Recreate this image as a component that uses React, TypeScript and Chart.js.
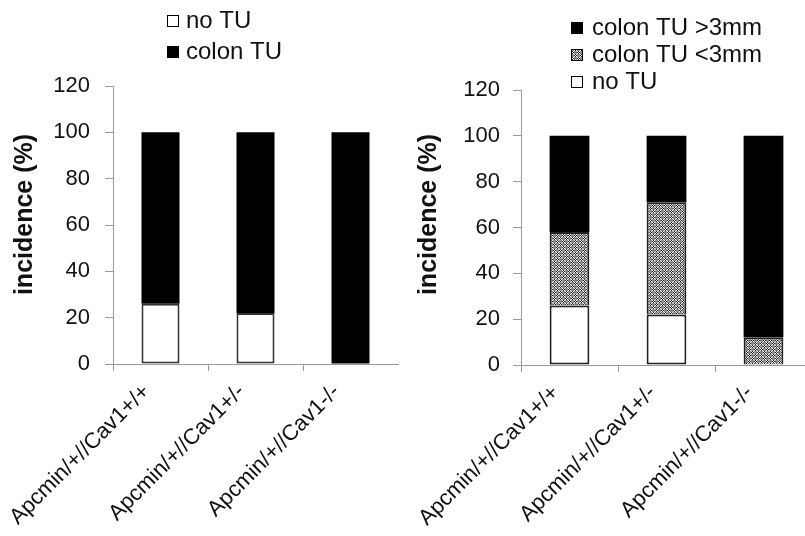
import React, { useEffect, useRef } from "react";
import { Chart, registerables } from "chart.js";

Chart.register(...registerables);

// ---- data ----
const categories = ["Apcmin/+//Cav1+/+", "Apcmin/+//Cav1+/-", "Apcmin/+//Cav1-/-"];
const leftNoTU = [26, 22, 0];
const leftColonTU = [74, 78, 100];
const rightNoTU = [26, 22, 0];
const rightSmallTU = [32, 49, 12];
const rightLargeTU = [42, 29, 88];
const yMin = 0;
const yMax = 120;
const yStep = 20;
const yTitle = "incidence (%)";
const leftLabels = ["no TU", "colon TU"];
const rightLabels = ["no TU", "colon TU <3mm", "colon TU >3mm"];
const leftLegendOrder = [0, 1];
const rightLegendOrder = [2, 1, 0];

const FONT = "'Liberation Sans', Arial, Helvetica, sans-serif";
const AXIS = "#9a9a9a";

function makePattern(): CanvasPattern | string {
  const rows = [
    "wkwggg",
    "kwkggg",
    "wkwggg",
    "gggwkw",
    "gggkwk",
    "gggwkw",
  ];
  const c = document.createElement("canvas");
  c.width = 6;
  c.height = 6;
  const g = c.getContext("2d");
  if (!g) return "#999";
  const col: Record<string, string> = { w: "#f4f4f4", k: "#1e1e1e", g: "#8a8a8a" };
  rows.forEach((r, y) => {
    for (let x = 0; x < r.length; x++) {
      g.fillStyle = col[r[x]];
      g.fillRect(x, y, 1, 1);
    }
  });
  const p = g.createPattern(c, "repeat");
  return p || "#999";
}

type Cfg = {
  yWidth: number;
  xHeight: number;
  padTop: number;
  padRight: number;
  barPct: number;
  yTickPad: number;
  legendBoxX: number;
  legendTextX: number;
  legendBaselines: number[];
  legendOrder: number[];
  titleX: number;
  titleY: number;
};

function overlayPlugin(cfg: Cfg) {
  return {
    id: "overlay",
    afterDraw(chart: any) {
      const ctx: CanvasRenderingContext2D = chart.ctx;
      ctx.save();
      // legend
      ctx.font = `24px ${FONT}`;
      ctx.textBaseline = "alphabetic";
      ctx.textAlign = "left";
      cfg.legendOrder.forEach((di, i) => {
        const ds = chart.data.datasets[di];
        const base = cfg.legendBaselines[i];
        const bx = cfg.legendBoxX;
        const by = base - 13;
        ctx.fillStyle = ds.backgroundColor;
        ctx.fillRect(bx, by, 12, 12);
        ctx.strokeStyle = "#000";
        ctx.lineWidth = 1;
        ctx.strokeRect(bx + 0.5, by + 0.5, 11, 11);
        ctx.fillStyle = "#111";
        ctx.fillText(ds.label, cfg.legendTextX, base);
      });
      // y axis title
      ctx.translate(cfg.titleX, cfg.titleY);
      ctx.rotate(-Math.PI / 2);
      ctx.font = `bold 25px ${FONT}`;
      ctx.textAlign = "center";
      ctx.textBaseline = "middle";
      ctx.fillStyle = "#111";
      ctx.fillText(yTitle, 0, 0);
      ctx.restore();
    },
  };
}

function buildConfig(datasets: any[], cfg: Cfg): any {
  return {
    type: "bar",
    data: { labels: categories, datasets },
    plugins: [overlayPlugin(cfg)],
    options: {
      animation: false,
      responsive: true,
      maintainAspectRatio: false,
      devicePixelRatio: 1,
      layout: { padding: { top: cfg.padTop, right: cfg.padRight, left: 0, bottom: 0 } },
      plugins: { legend: { display: false }, tooltip: { enabled: false }, title: { display: false } },
      datasets: { bar: { categoryPercentage: 1, barPercentage: cfg.barPct } },
      scales: {
        x: {
          stacked: true,
          offset: true,
          grid: {
            offset: true,
            drawOnChartArea: false,
            drawTicks: true,
            tickLength: 7,
            color: (c: any) => (c.type === "tick" ? AXIS : "rgba(0,0,0,0)"),
            lineWidth: 1,
          },
          border: { display: true, color: AXIS, width: 1 },
          ticks: {
            autoSkip: false,
            minRotation: 45,
            maxRotation: 45,
            padding: 8,
            labelOffset: -14,
            color: "#111",
            font: { family: FONT, size: 22 },
          },
          afterFit: (s: any) => {
            s.height = cfg.xHeight;
            s.paddingLeft = 0;
            s.paddingRight = 0;
          },
        },
        y: {
          stacked: true,
          min: yMin,
          max: yMax,
          grid: { drawOnChartArea: false, drawTicks: true, tickLength: 8, color: AXIS, lineWidth: 1 },
          border: { display: true, color: AXIS, width: 1 },
          ticks: {
            stepSize: yStep,
            padding: cfg.yTickPad,
            color: "#111",
            font: { family: FONT, size: 22 },
          },
          afterFit: (s: any) => {
            s.width = cfg.yWidth;
          },
        },
      },
    },
  };
}

export default function App() {
  const leftRef = useRef<HTMLCanvasElement | null>(null);
  const rightRef = useRef<HTMLCanvasElement | null>(null);

  useEffect(() => {
    const pattern = makePattern();
    const leftCfg: Cfg = {
      yWidth: 113,
      xHeight: 536 - 364,
      padTop: 86,
      padRight: 2,
      barPct: 0.4,
      yTickPad: 15,
      legendBoxX: 167,
      legendTextX: 186,
      legendBaselines: [28, 59],
      legendOrder: leftLegendOrder,
      titleX: 25.5,
      titleY: 214.5,
    };
    const rightCfg: Cfg = {
      yWidth: 121,
      xHeight: 536 - 365,
      padTop: 90,
      padRight: 0,
      barPct: 0.41,
      yTickPad: 13,
      legendBoxX: 171,
      legendTextX: 192,
      legendBaselines: [35, 62, 89],
      legendOrder: rightLegendOrder,
      titleX: 29,
      titleY: 214.5,
    };
    const leftDatasets = [
      {
        label: leftLabels[0],
        data: leftNoTU,
        backgroundColor: "#ffffff",
        borderColor: "#333333",
        borderWidth: 2,
        borderSkipped: false,
      },
      {
        label: leftLabels[1],
        data: leftColonTU,
        backgroundColor: "#000000",
        borderColor: "#000000",
        borderWidth: 0,
      },
    ];
    const rightDatasets = [
      {
        label: rightLabels[0],
        data: rightNoTU,
        backgroundColor: "#ffffff",
        borderColor: "#222222",
        borderWidth: 2,
        borderSkipped: false,
      },
      {
        label: rightLabels[1],
        data: rightSmallTU,
        backgroundColor: pattern,
        borderColor: "#222222",
        borderWidth: 2,
        borderSkipped: "start",
      },
      {
        label: rightLabels[2],
        data: rightLargeTU,
        backgroundColor: "#000000",
        borderColor: "#000000",
        borderWidth: 0,
      },
    ];
    const c1 = new Chart(leftRef.current as HTMLCanvasElement, buildConfig(leftDatasets, leftCfg));
    const c2 = new Chart(rightRef.current as HTMLCanvasElement, buildConfig(rightDatasets, rightCfg));
    return () => {
      c1.destroy();
      c2.destroy();
    };
  }, []);

  return (
    <div
      style={{
        position: "absolute",
        left: 0,
        top: 0,
        width: 805,
        height: 536,
        overflow: "hidden",
        background: "#ffffff",
      }}
    >
      <div style={{ position: "absolute", left: 0, top: 0, width: 400, height: 536 }}>
        <canvas ref={leftRef} />
      </div>
      <div style={{ position: "absolute", left: 400, top: 0, width: 412, height: 536 }}>
        <canvas ref={rightRef} />
      </div>
    </div>
  );
}
